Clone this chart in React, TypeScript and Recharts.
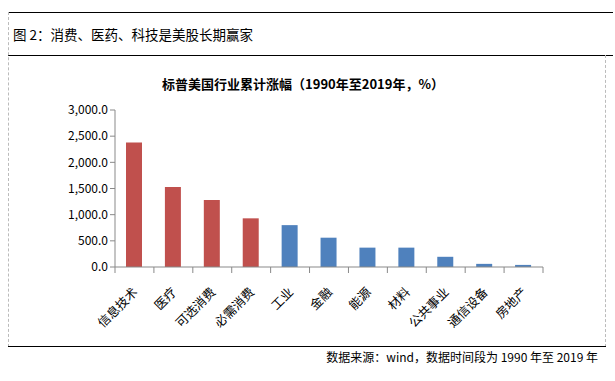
import React from "react";
import { BarChart, Bar, XAxis, YAxis, Cell } from "recharts";

const categories = ["信息技术", "医疗", "可选消费", "必需消费", "工业", "金融", "能源", "材料", "公共事业", "通信设备", "房地产"];
const gains = [2380, 1530, 1280, 930, 800, 560, 370, 370, 195, 60, 40];
const highlight = [true, true, true, true, false, false, false, false, false, false, false];
const yTicks = [0, 500, 1000, 1500, 2000, 2500, 3000];

const data = categories.map((name, i) => ({ name, value: gains[i], hot: highlight[i] }));

const W = 615;
const H = 381;
const LEFT = 115;
const RIGHT = 543;
const TOP = 110;
const BOTTOM = 267;
const font = '"Noto Sans CJK SC", "Microsoft YaHei", sans-serif';

const fmt = (v: number) =>
  v.toLocaleString("en-US", { minimumFractionDigits: 1, maximumFractionDigits: 1 });

const XTick = (props: any) => {
  const { x, y, payload, index } = props;
  const bw = (RIGHT - LEFT) / categories.length;
  const tx = x + 4;
  const ty = y + 18;
  return (
    <g>
      <line x1={x - bw / 2} y1={y - 8} x2={x - bw / 2} y2={y - 2} stroke="#898989" />
      {index === categories.length - 1 && (
        <line x1={x + bw / 2} y1={y - 8} x2={x + bw / 2} y2={y - 2} stroke="#898989" />
      )}
      <text
        x={tx}
        y={ty}
        transform={`rotate(-45, ${tx}, ${ty})`}
        textAnchor="end"
        fontSize={12.5}
        fontFamily={font}
        fill="#000"
      >
        {payload.value}
      </text>
    </g>
  );
};

export default function App() {
  return (
    <div style={{ position: "absolute", left: 0, top: 0, width: W, height: H, background: "#fff", fontFamily: font }}>
      {/* frame */}
      <div style={{ position: "absolute", left: 8, top: 12, width: 605, borderTop: "1px solid #000" }} />
      <div style={{ position: "absolute", left: 8, top: 55, width: 605, borderTop: "1px solid #000" }} />
      <div style={{ position: "absolute", left: 8, top: 12, height: 335, borderLeft: "1px dashed #bbb" }} />
      <div style={{ position: "absolute", left: 605, top: 55, height: 292, borderLeft: "1px dashed #bbb" }} />
      <div style={{ position: "absolute", left: 8, top: 346, width: 598, borderTop: "1px solid #000" }} />
      <div style={{ position: "absolute", left: 13, top: 24, fontSize: 13.5, color: "#000", whiteSpace: "nowrap" }}>
        图 2：消费、医药、科技是美股长期赢家
      </div>
      <div
        style={{
          position: "absolute",
          left: 0,
          width: 606,
          top: 74,
          textAlign: "center",
          fontSize: 13,
          fontWeight: "bold",
          color: "#000",
          whiteSpace: "nowrap",
        }}
      >
        标普美国行业累计涨幅（1990年至2019年，%）
      </div>
      <div
        style={{
          position: "absolute",
          right: W - 598,
          top: 348,
          fontSize: 12,
          color: "#000",
          whiteSpace: "nowrap",
        }}
      >
        数据来源：wind，数据时间段为 1990 年至 2019 年
      </div>
      <div style={{ position: "absolute", left: 0, top: 0 }}>
        <BarChart
          width={W}
          height={H}
          data={data}
          margin={{ top: TOP, bottom: 0, left: 0, right: W - RIGHT }}
        >
          <XAxis
            dataKey="name"
            interval={0}
            stroke="#898989"
            tickLine={false}
            tick={<XTick />}
            height={H - BOTTOM}
          />
          <YAxis
            width={LEFT}
            domain={[0, 3000]}
            ticks={yTicks}
            tickFormatter={fmt}
            stroke="#898989"
            tickSize={5}
            tick={{ fontSize: 12, fill: "#000", fontFamily: font }}
          />
          <Bar dataKey="value" barSize={16} isAnimationActive={false}>
            {data.map((d, i) => (
              <Cell key={i} fill={d.hot ? "#C0504D" : "#4F81BD"} />
            ))}
          </Bar>
        </BarChart>
      </div>
    </div>
  );
}
